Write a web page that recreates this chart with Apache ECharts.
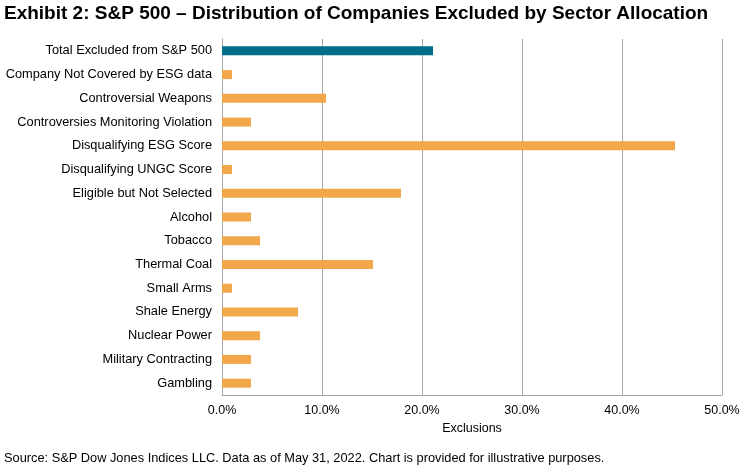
<!DOCTYPE html>
<html><head><meta charset="utf-8">
<script src="https://cdn.jsdelivr.net/npm/echarts@6/dist/echarts.min.js"></script>
<style>html,body{margin:0;padding:0;background:#fff}#c{width:745px;height:473px}</style>
</head><body><div id="c"></div>
<script>
const categories = ["Total Excluded from S&P 500","Company Not Covered by ESG data","Controversial Weapons","Controversies Monitoring Violation","Disqualifying ESG Score","Disqualifying UNGC Score","Eligible but Not Selected","Alcohol","Tobacco","Thermal Coal","Small Arms","Shale Energy","Nuclear Power","Military Contracting","Gambling"];
const values = [21.1,1.0,10.4,2.9,45.3,1.0,17.9,2.9,3.8,15.1,1.0,7.6,3.8,2.9,2.9];
const xTicks = [0,10,20,30,40,50];
const titleText = "Exhibit 2: S&P 500 \u2013 Distribution of Companies Excluded by Sector Allocation";
const sourceText = "Source: S&P Dow Jones Indices LLC. Data as of May 31, 2022. Chart is provided for illustrative purposes.";

const chart = echarts.init(document.getElementById('c'));
const font = 'Liberation Sans, Arial, sans-serif';
chart.setOption({
  animation:false,
  textStyle:{fontFamily:font},
  title:[
    {text:titleText,left:4,top:4,padding:0,textStyle:{fontFamily:font,fontWeight:'bold',fontSize:19,color:'#000'}},
    {text:sourceText,left:4,top:452,padding:0,textStyle:{fontFamily:font,fontWeight:'normal',fontSize:12.8,color:'#000'}}
  ],
  grid:{left:222,right:23,top:39,bottom:78},
  xAxis:{type:'value',min:xTicks[0],max:xTicks[xTicks.length-1],interval:10,
    name:'Exclusions',nameLocation:'middle',nameGap:24,nameTextStyle:{fontSize:12.5,color:'#000',fontFamily:font},
    axisLabel:{formatter:v=>v.toFixed(1)+'%',fontSize:12.5,color:'#000',margin:9},
    axisLine:{show:true,lineStyle:{color:'#a6a6a6',width:1}},
    axisTick:{show:false},
    splitLine:{show:true,lineStyle:{color:'#a6a6a6',width:1}}},
  yAxis:{type:'category',data:categories,inverse:true,
    axisLabel:{fontSize:12.8,color:'#000',margin:10},
    axisLine:{show:true,lineStyle:{color:'#a6a6a6',width:1}},
    axisTick:{show:false}},
  series:[{type:'bar',data:values.map((v,i)=>({value:v,itemStyle:{color:i===0?'#006D8A':'#F1A74A'}})),barWidth:9}]
});
</script></body></html>
